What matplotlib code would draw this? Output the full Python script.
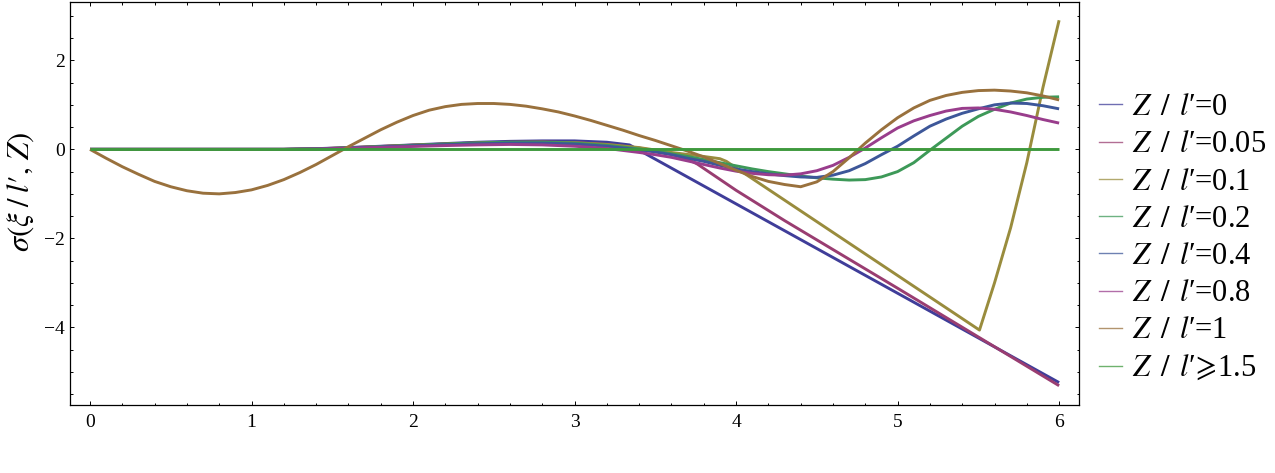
import matplotlib
matplotlib.use("Agg")
import matplotlib.pyplot as plt
from matplotlib.ticker import MultipleLocator, FixedLocator
from matplotlib.lines import Line2D

plt.rcParams['font.family'] = ['Liberation Serif', 'DejaVu Serif']
plt.rcParams['mathtext.fontset'] = 'stix'

# ---------------- data ----------------
labels = [r"$Z\ \,/\ \,l$′=0", r"$Z\ \,/\ \,l$′=0.05", r"$Z\ \,/\ \,l$′=0.1",
          r"$Z\ \,/\ \,l$′=0.2", r"$Z\ \,/\ \,l$′=0.4", r"$Z\ \,/\ \,l$′=0.8",
          r"$Z\ \,/\ \,l$′=1", r"$Z\ \,/\ \,l$′$\!\geqslant\!$1.5"]

x_z0 = [0, 1.2, 1.4, 1.6, 1.8, 2.0, 2.2, 2.4, 2.6, 2.8, 3.0, 3.2, 3.34, 6.0]
y_z0 = [0, 0, 0.015, 0.04, 0.07, 0.1, 0.13, 0.16, 0.18, 0.19, 0.19, 0.16, 0.1, -5.24]

x_z005 = [0, 1.2, 1.4, 1.6, 1.8, 2.0, 2.2, 2.4, 2.6, 2.8, 3.0, 3.2, 3.4, 3.5, 3.6, 3.7,
          3.76, 4.0, 4.3, 5.0, 6.0]
y_z005 = [0, 0, 0.012, 0.035, 0.065, 0.095, 0.12, 0.145, 0.16, 0.165, 0.15, 0.11, 0.03,
          -0.03, -0.11, -0.22, -0.33, -0.92, -1.6, -3.12, -5.31]

x_z01 = [0, 1.2, 1.4, 1.6, 1.8, 2.0, 2.2, 2.4, 2.6, 2.8, 3.0, 3.2, 3.4, 3.6, 3.8, 3.9,
         3.94, 5.507, 5.6, 5.7, 5.8, 5.9, 6.0]
y_z01 = [0, 0, 0.012, 0.035, 0.063, 0.092, 0.118, 0.14, 0.155, 0.16, 0.15, 0.11, 0.04,
         -0.07, -0.16, -0.21, -0.27, -4.06, -3.0, -1.76, -0.3, 1.39, 2.9]

x_curve = [0, 1.2, 1.4, 1.6, 1.8, 2.0, 2.2, 2.4, 2.6, 2.8, 3.0, 3.2, 3.4, 3.5, 3.6, 3.7,
           3.8, 3.9, 4.0, 4.1, 4.2, 4.3, 4.4, 4.5, 4.6, 4.7, 4.8, 4.9, 5.0, 5.1, 5.2, 5.3,
           5.4, 5.5, 5.6, 5.7, 5.8, 5.9, 6.0]
y_z02 = [0, 0, 0.01, 0.03, 0.06, 0.09, 0.12, 0.145, 0.16, 0.16, 0.14, 0.09, 0.01, -0.04,
         -0.1, -0.16, -0.23, -0.3, -0.37, -0.44, -0.5, -0.55, -0.6, -0.64, -0.67, -0.69,
         -0.68, -0.62, -0.5, -0.3, -0.02, 0.25, 0.52, 0.74, 0.9, 1.04, 1.13, 1.17, 1.18]
y_z04 = [0, 0, 0.01, 0.03, 0.055, 0.08, 0.105, 0.125, 0.14, 0.14, 0.12, 0.07, -0.01, -0.06,
         -0.12, -0.2, -0.27, -0.36, -0.44, -0.5, -0.55, -0.59, -0.62, -0.63, -0.58, -0.48,
         -0.32, -0.12, 0.07, 0.3, 0.52, 0.68, 0.81, 0.91, 1.0, 1.04, 1.03, 0.98, 0.91]
y_z08 = [0, 0, 0.008, 0.025, 0.045, 0.065, 0.085, 0.1, 0.11, 0.1, 0.07, 0.02, -0.07, -0.12,
         -0.18, -0.26, -0.34, -0.42, -0.49, -0.54, -0.57, -0.58, -0.55, -0.48, -0.36, -0.18,
         0.03, 0.26, 0.48, 0.64, 0.76, 0.86, 0.92, 0.93, 0.9, 0.84, 0.76, 0.67, 0.59]

x_z1 = [0, 0.1, 0.2, 0.3, 0.4, 0.5, 0.6, 0.7, 0.8, 0.9, 1.0, 1.1, 1.2, 1.3, 1.4, 1.5, 1.6,
        1.7, 1.8, 1.9, 2.0, 2.1, 2.2, 2.3, 2.4, 2.5, 2.6, 2.7, 2.8, 2.9, 3.0, 3.1, 3.2, 3.3,
        3.4, 3.5, 3.6, 3.7, 3.8, 3.9, 4.0, 4.1, 4.2, 4.3, 4.4, 4.5, 4.6, 4.7, 4.8, 4.9, 5.0,
        5.1, 5.2, 5.3, 5.4, 5.5, 5.6, 5.7, 5.8, 5.9, 6.0]
y_z1 = [0, -0.2, -0.39, -0.56, -0.72, -0.84, -0.93, -0.985, -1.0, -0.97, -0.91, -0.81,
        -0.68, -0.52, -0.34, -0.14, 0.06, 0.25, 0.44, 0.61, 0.76, 0.88, 0.96, 1.01, 1.03,
        1.03, 1.01, 0.97, 0.91, 0.84, 0.75, 0.65, 0.54, 0.43, 0.31, 0.2, 0.08, -0.04, -0.17,
        -0.32, -0.47, -0.61, -0.72, -0.79, -0.84, -0.73, -0.5, -0.19, 0.14, 0.44, 0.71, 0.93,
        1.1, 1.21, 1.28, 1.32, 1.33, 1.31, 1.27, 1.2, 1.11]

x_z15 = [0, 6.0]
y_z15 = [0, 0]

colors = ['#3f3d99', '#993d71', '#998c3d', '#3d9958', '#3d5799', '#993d8c', '#99713d', '#3e993d']

series_x = [x_z0, x_z005, x_z01, x_curve, x_curve, x_curve, x_z1, x_z15]
series_y = [y_z0, y_z005, y_z01, y_z02, y_z04, y_z08, y_z1, y_z15]

# ---------------- figure ----------------
W, H = 1275, 473
fig = plt.figure(figsize=(W / 100, H / 100), dpi=100)
left, right, top, bottom = 70.3, 1079.3, 1.7, 405.3
ax = fig.add_axes([left / W, 1 - bottom / H, (right - left) / W, (bottom - top) / H])

for xs, ys, c in zip(series_x, series_y, colors):
    ax.plot(xs, ys, color=c, lw=2.1, solid_joinstyle='round', solid_capstyle='butt')

ax.set_xlim(-0.122, 6.125)
ax.set_ylim(-5.75, 3.317)

ax.xaxis.set_major_locator(FixedLocator([0, 1, 2, 3, 4, 5, 6]))
ax.xaxis.set_minor_locator(MultipleLocator(0.2))
ax.yaxis.set_major_locator(FixedLocator([-4, -2, 0, 2]))
ax.yaxis.set_minor_locator(MultipleLocator(0.5))

ax.tick_params(which='both', direction='in', top=True, right=True, width=0.7, colors='black')
ax.tick_params(which='major', length=3.2)
ax.tick_params(which='minor', length=1.8)
ax.tick_params(axis='x', which='major', labelsize=14, pad=6)
ax.tick_params(axis='y', which='major', labelsize=14, pad=4)
for s in ax.spines.values():
    s.set_linewidth(0.9)

ax.set_ylabel(r"$\sigma(\xi\;/\;l′,\,Z)$", fontsize=22)
ax.yaxis.set_label_coords(-0.034, 0.53)

handles = [Line2D([0], [0], color=c, lw=1.0, alpha=0.75) for c in colors]
leg = ax.legend(handles, labels, loc='upper left', bbox_to_anchor=(1099 / W, 1 - 93 / H),
                bbox_transform=fig.transFigure, frameon=False, fontsize=22,
                handlelength=0.76, handletextpad=0.33, labelspacing=0.27,
                borderpad=0, borderaxespad=0)

fig.savefig("out.png", dpi=100)
